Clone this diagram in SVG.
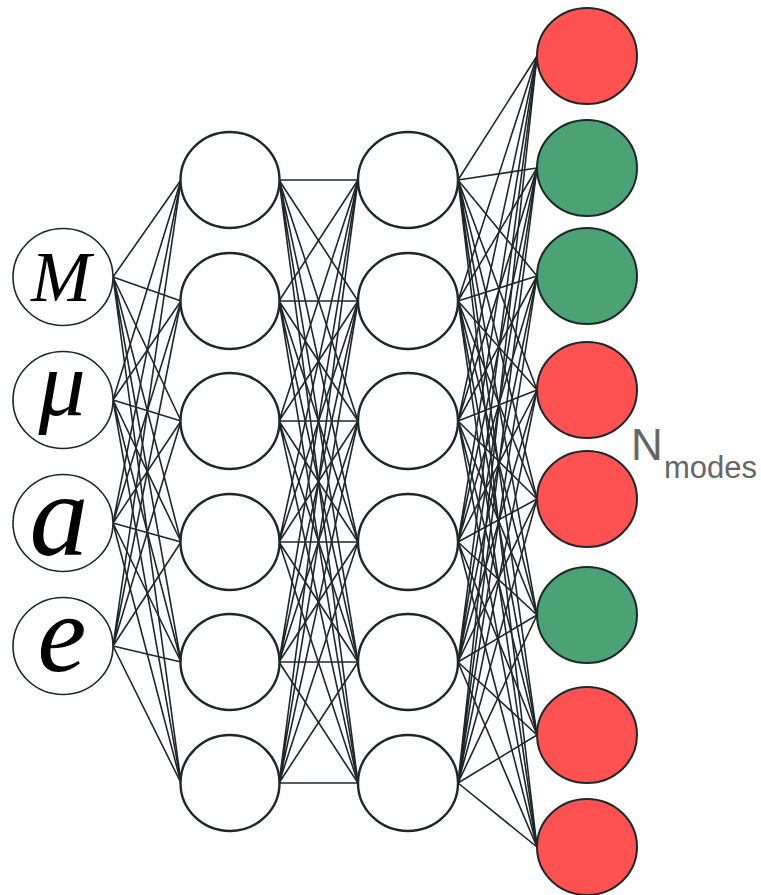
<svg xmlns="http://www.w3.org/2000/svg" width="761" height="895" viewBox="0 0 761 895">
<style>
.c{fill:none;stroke:#1e2828;stroke-width:1.6;stroke-linecap:round}
.in{fill:#fff;stroke:#1e2828;stroke-width:1.6}
.hid{fill:#fff;stroke:#1e2828;stroke-width:2.4}
.red{fill:#fe5252;stroke:#1e2828;stroke-width:2}
.grn{fill:#4ba274;stroke:#1e2828;stroke-width:2}
.sym{font-family:"Liberation Serif","DejaVu Serif",serif;font-style:italic;fill:#000;text-anchor:middle}
.lbl{font-family:"Liberation Sans","Open Sans",sans-serif;fill:#666}
</style>
<rect width="761" height="895" fill="#fff"/>
<g id="connectors" class="c">
<path d="M113 277L181 180M113 277L181 301M113 277L181 421M113 277L181 542M113 277L181 662M113 277L181 783"/>
<path d="M113 400L181 180M113 400L181 301M113 400L181 421M113 400L181 542M113 400L181 662M113 400L181 783"/>
<path d="M113 523L181 180M113 523L181 301M113 523L181 421M113 523L181 542M113 523L181 662M113 523L181 783"/>
<path d="M113 646L181 180M113 646L181 301M113 646L181 421M113 646L181 542M113 646L181 662M113 646L181 783"/>
<path d="M279 180L358 180M279 180L358 301M279 180L358 421M279 180L358 542M279 180L358 662M279 180L358 783"/>
<path d="M279 301L358 180M279 301L358 301M279 301L358 421M279 301L358 542M279 301L358 662M279 301L358 783"/>
<path d="M279 421L358 180M279 421L358 301M279 421L358 421M279 421L358 542M279 421L358 662M279 421L358 783"/>
<path d="M279 542L358 180M279 542L358 301M279 542L358 421M279 542L358 542M279 542L358 662M279 542L358 783"/>
<path d="M279 662L358 180M279 662L358 301M279 662L358 421M279 662L358 542M279 662L358 662M279 662L358 783"/>
<path d="M279 783L358 180M279 783L358 301M279 783L358 421M279 783L358 542M279 783L358 662M279 783L358 783"/>
<path d="M458 180L537 56M458 180L537 168M458 180L537 276M458 180L537 390M458 180L537 499M458 180L537 615M458 180L537 735M458 180L537 847"/>
<path d="M458 301L537 56M458 301L537 168M458 301L537 276M458 301L537 390M458 301L537 499M458 301L537 615M458 301L537 735M458 301L537 847"/>
<path d="M458 421L537 56M458 421L537 168M458 421L537 276M458 421L537 390M458 421L537 499M458 421L537 615M458 421L537 735M458 421L537 847"/>
<path d="M458 542L537 56M458 542L537 168M458 542L537 276M458 542L537 390M458 542L537 499M458 542L537 615M458 542L537 735M458 542L537 847"/>
<path d="M458 662L537 56M458 662L537 168M458 662L537 276M458 662L537 390M458 662L537 499M458 662L537 615M458 662L537 735M458 662L537 847"/>
<path d="M458 783L537 56M458 783L537 168M458 783L537 276M458 783L537 390M458 783L537 499M458 783L537 615M458 783L537 735M458 783L537 847"/>
</g>
<g id="in-M"><ellipse class="in" cx="63" cy="277" rx="50" ry="48.5"/><text class="sym" x="61" y="301" font-size="72">M</text></g>
<g id="in-mu"><ellipse class="in" cx="63" cy="400" rx="50" ry="48.5"/><text class="sym" x="62" y="415" font-size="94">μ</text></g>
<g id="in-a"><ellipse class="in" cx="63" cy="523" rx="50" ry="48.5"/><text class="sym" x="59" y="555" font-size="118">a</text></g>
<g id="in-e"><ellipse class="in" cx="63" cy="646" rx="50" ry="48.5"/><text class="sym" x="62" y="671" font-size="110">e</text></g>
<g id="h1-1"><ellipse class="hid" cx="230" cy="180" rx="49.5" ry="48"/></g>
<g id="h1-2"><ellipse class="hid" cx="230" cy="301" rx="49.5" ry="48"/></g>
<g id="h1-3"><ellipse class="hid" cx="230" cy="421" rx="49.5" ry="48"/></g>
<g id="h1-4"><ellipse class="hid" cx="230" cy="542" rx="49.5" ry="48"/></g>
<g id="h1-5"><ellipse class="hid" cx="230" cy="662" rx="49.5" ry="48"/></g>
<g id="h1-6"><ellipse class="hid" cx="230" cy="783" rx="49.5" ry="48"/></g>
<g id="h2-1"><ellipse class="hid" cx="408" cy="180" rx="50" ry="48"/></g>
<g id="h2-2"><ellipse class="hid" cx="408" cy="301" rx="50" ry="48"/></g>
<g id="h2-3"><ellipse class="hid" cx="408" cy="421" rx="50" ry="48"/></g>
<g id="h2-4"><ellipse class="hid" cx="408" cy="542" rx="50" ry="48"/></g>
<g id="h2-5"><ellipse class="hid" cx="408" cy="662" rx="50" ry="48"/></g>
<g id="h2-6"><ellipse class="hid" cx="408" cy="783" rx="50" ry="48"/></g>
<g id="out-1"><ellipse class="red" cx="587" cy="56" rx="50" ry="48"/></g>
<g id="out-2"><ellipse class="grn" cx="587" cy="168" rx="50" ry="48"/></g>
<g id="out-3"><ellipse class="grn" cx="587" cy="276" rx="50" ry="48"/></g>
<g id="out-4"><ellipse class="red" cx="587" cy="390" rx="50" ry="48"/></g>
<g id="out-5"><ellipse class="red" cx="587" cy="499" rx="50" ry="48"/></g>
<g id="out-6"><ellipse class="grn" cx="587" cy="615" rx="50" ry="48"/></g>
<g id="out-7"><ellipse class="red" cx="587" cy="735" rx="50" ry="48"/></g>
<g id="out-8"><ellipse class="red" cx="587" cy="847" rx="50" ry="48"/></g>
<g id="label"><text class="lbl" x="631" y="460" font-size="44">N</text><text class="lbl" x="664" y="478" font-size="31">modes</text></g>
</svg>
